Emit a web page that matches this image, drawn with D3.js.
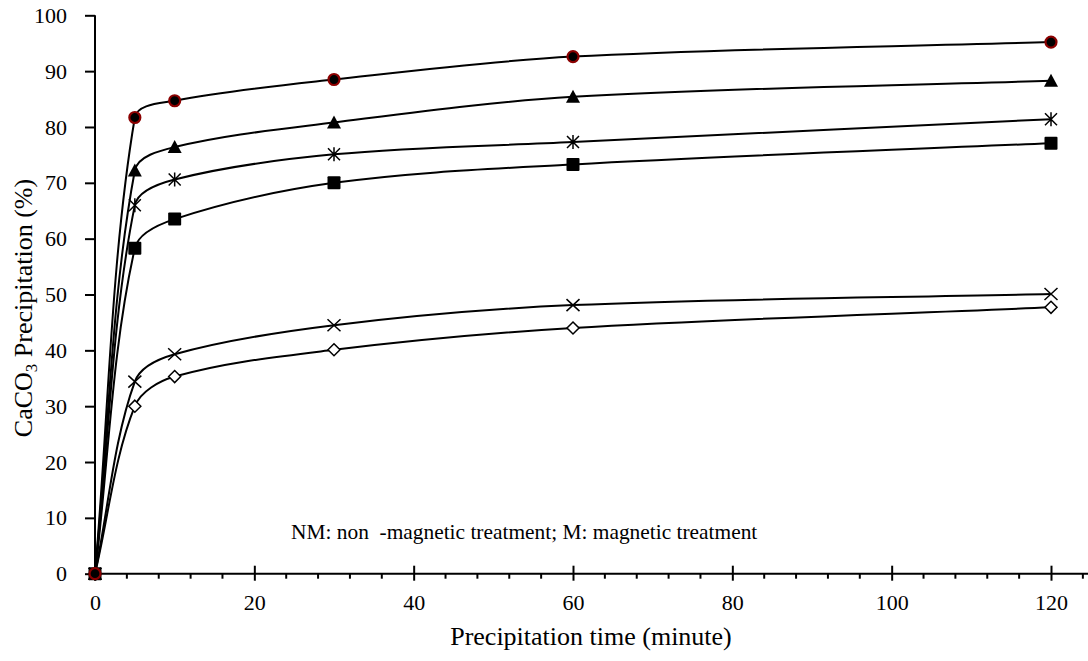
<!DOCTYPE html>
<html><head><meta charset="utf-8">
<script src="https://cdn.jsdelivr.net/npm/d3@7"></script>
<style>body{margin:0;background:#fff}svg{display:block}</style>
</head><body>
<svg id="c" width="1088" height="661"></svg>
<script>
const times = [0, 5, 10, 30, 60, 120];
const seriesCircle   = [0, 81.7, 84.7, 88.5, 92.6, 95.2];
const seriesTriangle = [0, 72.2, 76.4, 80.8, 85.4, 88.3];
const seriesStar     = [0, 66.0, 70.6, 75.1, 77.3, 81.4];
const seriesSquare   = [0, 58.3, 63.5, 70.0, 73.3, 77.1];
const seriesX        = [0, 34.4, 39.3, 44.5, 48.1, 50.1];
const seriesDiamond  = [0, 30.0, 35.3, 40.1, 44.0, 47.7];
const xTicks = [0, 20, 40, 60, 80, 100, 120];
const yTicks = [0, 10, 20, 30, 40, 50, 60, 70, 80, 90, 100];
const note = "NM: non  -magnetic treatment; M: magnetic treatment";

const svg = d3.select("#c");
const x = d3.scaleLinear().domain([0, 120]).range([95, 1051]);
const y = d3.scaleLinear().domain([0, 100]).range([573.7, 15.3]);
const font = "'Liberation Serif','Times New Roman',serif";

// Smoothed curve similar to spreadsheet smoothing (chord-weighted tangents)
function smoothCurve(context) {
  let pts;
  return {
    areaStart() {}, areaEnd() {},
    lineStart() { pts = []; },
    point(px, py) { pts.push([+px, +py]); },
    lineEnd() {
      const n = pts.length; if (!n) return;
      context.moveTo(pts[0][0], pts[0][1]);
      if (n === 1) return;
      const d = i => Math.hypot(pts[i+1][0]-pts[i][0], pts[i+1][1]-pts[i][1]);
      const tan = i => {
        const a = pts[Math.max(i-1, 0)], b = pts[Math.min(i+1, n-1)];
        const s = (i > 0 ? d(i-1) : 0) + (i < n-1 ? d(i) : 0);
        return [(b[0]-a[0])/s, (b[1]-a[1])/s];
      };
      for (let i = 0; i < n-1; i++) {
        const L = d(i) / 3, t0 = tan(i), t1 = tan(i+1);
        context.bezierCurveTo(pts[i][0]+t0[0]*L, pts[i][1]+t0[1]*L,
          pts[i+1][0]-t1[0]*L, pts[i+1][1]-t1[1]*L, pts[i+1][0], pts[i+1][1]);
      }
    }
  };
}

// Y axis
const yAx = svg.append("g").attr("transform", `translate(${x(0)},0)`)
  .call(d3.axisLeft(y).tickValues(yTicks).tickSize(10).tickPadding(18));
yAx.select(".domain").attr("stroke-width", 2).attr("d", `M0,${y(0)}V${y(100)}`);
yAx.selectAll(".tick line").attr("stroke-width", 2);
yAx.selectAll("text").attr("font-family", font).attr("font-size", 22).attr("fill", "#000");

// X axis with minor ticks every 4
const minor = d3.range(0, 125, 4).filter(v => v % 20 !== 0);
const xAx = svg.append("g").attr("transform", `translate(0,${y(0)})`)
  .call(d3.axisBottom(x).tickValues(xTicks).tickSize(6));
xAx.select(".domain").attr("stroke-width", 2).attr("d", `M${x(0)},0H1088`);
xAx.selectAll(".tick line").attr("stroke-width", 2).attr("y1", -8).attr("y2", 7);
xAx.selectAll("text").attr("font-family", font).attr("font-size", 22).attr("fill", "#000")
  .attr("y", 36).attr("dy", 0);
xAx.selectAll(".minor").data(minor).join("line").attr("class", "minor")
  .attr("x1", d => x(d)).attr("x2", d => x(d)).attr("y1", 0).attr("y2", 5)
  .attr("stroke", "#000").attr("stroke-width", 2);

// titles
svg.append("text").attr("x", 591).attr("y", 645).attr("text-anchor", "middle")
  .attr("font-family", font).attr("font-size", 26).text("Precipitation time (minute)");
const yt = svg.append("text").attr("transform", "translate(32,308) rotate(-90)")
  .attr("text-anchor", "middle").attr("font-family", font).attr("font-size", 26);
yt.append("tspan").text("CaCO");
yt.append("tspan").attr("font-size", 17).attr("dy", 5).text("3");
yt.append("tspan").attr("dy", -5).text(" Precipitation (%)");

svg.append("text").attr("x", 291).attr("y", 539).attr("font-family", font)
  .attr("font-size", 21.4).style("white-space", "pre").text(note);

const line = d3.line().x((d, i) => x(times[i])).y(d => y(d)).curve(smoothCurve);

const series = [
  {v: seriesDiamond, m: "diamond"},
  {v: seriesX, m: "x"},
  {v: seriesSquare, m: "square"},
  {v: seriesStar, m: "star"},
  {v: seriesTriangle, m: "triangle"},
  {v: seriesCircle, m: "circle"}
];
series.forEach(s => {
  svg.append("path").attr("d", line(s.v)).attr("fill", "none").attr("stroke", "#000").attr("stroke-width", 2);
});
series.forEach(s => {
  const g = svg.append("g");
  s.v.forEach((v, i) => {
    const cx = x(times[i]), cy = y(v);
    if (s.m === "circle") {
      g.append("circle").attr("cx", cx).attr("cy", cy).attr("r", 5.5).attr("fill", "#000").attr("stroke", "#8b0000").attr("stroke-width", 2.2);
    } else if (s.m === "triangle") {
      g.append("path").attr("d", `M${cx},${cy-7}L${cx+7},${cy+6}L${cx-7},${cy+6}Z`).attr("fill", "#000");
    } else if (s.m === "square") {
      g.append("rect").attr("x", cx-6.5).attr("y", cy-6.5).attr("width", 13).attr("height", 13).attr("rx", 1).attr("fill", "#000");
    } else if (s.m === "star") {
      g.append("path").attr("d", `M${cx-6},${cy-6}L${cx+6},${cy+6}M${cx+6},${cy-6}L${cx-6},${cy+6}M${cx},${cy-7}V${cy+7}`).attr("stroke", "#000").attr("stroke-width", 1.5);
    } else if (s.m === "x") {
      g.append("path").attr("d", `M${cx-6.5},${cy-6}L${cx+6.5},${cy+6}M${cx+6.5},${cy-6}L${cx-6.5},${cy+6}`).attr("stroke", "#000").attr("stroke-width", 1.5);
    } else if (s.m === "diamond") {
      g.append("path").attr("d", `M${cx},${cy-6}L${cx+6},${cy}L${cx},${cy+6}L${cx-6},${cy}Z`).attr("fill", "#fff").attr("stroke", "#000").attr("stroke-width", 1.5);
    }
  });
});
</script>
</body></html>
